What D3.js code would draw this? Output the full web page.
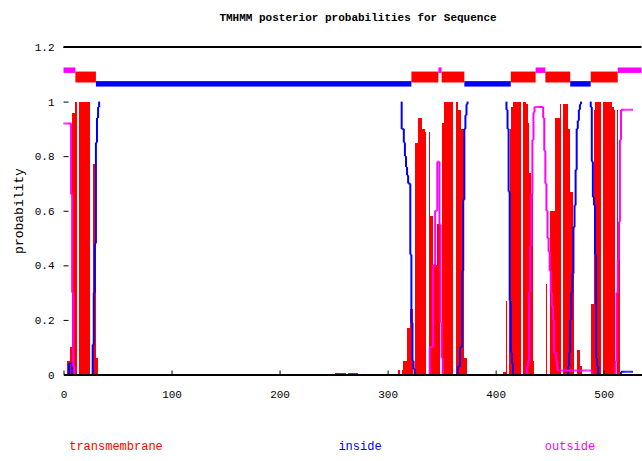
<!DOCTYPE html>
<html>
<head>
<meta charset="utf-8">
<script src="https://cdn.jsdelivr.net/npm/d3@7"></script>
<style>
body { margin: 0; background: #fff; }
text { font-family: "Liberation Mono", "DejaVu Sans Mono", monospace; fill: #000; }
</style>
</head>
<body>
<div id="chart"></div>
<script>
/* chart values */
var titleText = "TMHMM posterior probabilities for Sequence";
var yLabel = "probability";
var seqLength = 535;
var lastResidue = 527;
var xTicks = [0, 100, 200, 300, 400, 500];
var yTicks = [0, 0.2, 0.4, 0.6, 0.8, 1, 1.2];
var legendNames = ["transmembrane", "inside", "outside"];

// predicted topology: [first residue, last residue, state]
var topology = [
    [1, 11, "outside"], [12, 30, "transmembrane"], [31, 322, "inside"],
    [323, 347, "transmembrane"], [348, 350, "outside"], [351, 371, "transmembrane"],
    [372, 414, "inside"], [415, 437, "transmembrane"], [438, 446, "outside"],
    [447, 469, "transmembrane"], [470, 488, "inside"], [489, 513, "transmembrane"],
    [514, 535, "outside"]
];

// posterior probabilities as runs: [from, to, value]
var tmRuns = [
    [4, 6, 0.05], [7, 8, 0.1], [9, 11, 0.96], [12, 27, 1], [28, 30, 0.77], [31, 32, 0.06],
    [252, 273, 0.005],
    [311, 314, 0.015], [315, 318, 0.05], [319, 321, 0.17], [322, 324, 0.24], [325, 328, 0.85],
    [329, 332, 0.94], [333, 335, 0.9], [336, 339, 0.89], [340, 342, 0.58], [343, 346, 0.4],
    [347, 349, 0.55], [350, 352, 0.92], [353, 365, 1], [366, 368, 0.97], [369, 371, 0.9],
    [372, 374, 0.06],
    [408, 410, 0.01], [411, 413, 0.27], [414, 414, 0.9], [415, 416, 0.98], [417, 428, 1],
    [429, 430, 0.99], [431, 431, 0.92], [432, 433, 0.74], [434, 435, 0.66], [436, 436, 0.05],
    [448, 450, 0.33], [451, 455, 0.6], [456, 460, 0.94], [461, 467, 0.99], [468, 469, 0.9],
    [470, 472, 0.67], [473, 475, 0.54], [476, 478, 0.09], [479, 480, 0.03],
    [489, 491, 0.26], [492, 492, 0.97], [493, 508, 1], [509, 510, 0.98], [511, 513, 0.97],
    [514, 515, 0.56]
];

var insideRuns = [
    [1, 5, 0], [6, 8, 0.04], [9, 27, 0], [28, 28, 0.11], [29, 29, 0.3], [30, 30, 0.48],
    [31, 31, 0.85], [32, 32, 0.94], [33, 33, 0.98], [34, 313, 1], [314, 315, 0.9],
    [316, 316, 0.85], [317, 317, 0.8], [318, 318, 0.76], [319, 319, 0.73], [320, 321, 0.7],
    [322, 322, 0.44], [323, 323, 0.19], [324, 324, 0.05], [325, 325, 0.02], [326, 365, 0],
    [366, 367, 0.03], [368, 369, 0.1], [370, 370, 0.38], [371, 371, 0.64], [372, 372, 0.9],
    [373, 373, 0.95], [374, 374, 0.99], [375, 410, 1], [411, 411, 0.97], [412, 412, 0.9],
    [413, 413, 0.67], [414, 414, 0.27], [415, 415, 0.08], [416, 416, 0.04], [417, 467, 0],
    [468, 468, 0.03], [469, 469, 0.08], [470, 470, 0.2], [471, 471, 0.3], [472, 472, 0.37],
    [473, 473, 0.54], [474, 474, 0.62], [475, 475, 0.75], [476, 476, 0.9], [477, 477, 0.93],
    [478, 478, 0.97], [479, 479, 0.99], [480, 488, 1], [489, 489, 0.98], [490, 490, 0.78],
    [491, 491, 0.65], [492, 492, 0.62], [493, 493, 0.44], [494, 494, 0.06], [495, 495, 0.03],
    [496, 516, 0], [517, 527, 0.01]
];

var outsideRuns = [
    [1, 7, 0.92], [8, 8, 0.66], [9, 9, 0.3], [10, 10, 0.03], [11, 339, 0], [340, 342, 0.1],
    [343, 344, 0.4], [345, 346, 0.6], [347, 348, 0.78], [349, 349, 0.55], [350, 350, 0.19],
    [351, 351, 0.06], [352, 429, 0], [430, 430, 0.03], [431, 431, 0.05], [432, 432, 0.3],
    [433, 433, 0.47], [434, 434, 0.66], [435, 435, 0.86], [436, 436, 0.96], [437, 444, 0.98],
    [445, 445, 0.94], [446, 446, 0.82], [447, 447, 0.7], [448, 448, 0.6], [449, 449, 0.5],
    [450, 450, 0.45], [451, 451, 0.38], [452, 452, 0.3], [453, 453, 0.25], [454, 454, 0.2],
    [455, 456, 0.08], [457, 457, 0.05], [458, 489, 0.015], [490, 511, 0], [512, 512, 0.05],
    [513, 513, 0.3], [514, 514, 0.42], [515, 515, 0.56], [516, 516, 0.86], [517, 527, 0.97]
];

/* setup */
var width = 642;
var height = 461;
var colors = { transmembrane: "#ff0000", inside: "#0000ff", outside: "#ff00ff" };

var svg = d3.select("#chart").append("svg")
    .attr("width", width)
    .attr("height", height);

var x = d3.scaleLinear().domain([0, seqLength]).range([63.5, 641.5]);
var y = d3.scaleLinear().domain([0, 1.2]).range([374.5, 47]);

// runs -> one value per residue
function expand(runs) {
    var vals = new Array(lastResidue + 1).fill(0);
    runs.forEach(function (r) {
        for (var i = r[0]; i <= r[1]; i++) vals[i] = r[2];
    });
    return vals;
}
var tm = expand(tmRuns);
var inside = expand(insideRuns);
var outside = expand(outsideRuns);

/* transmembrane impulses - a bit narrower than a residue, so thin gaps show like the original */
var impulses = [];
tm.forEach(function (v, i) { if (i > 0 && v > 0) impulses.push({ res: i, p: v }); });

svg.append("g").attr("class", "impulses")
    .attr("shape-rendering", "crispEdges")
    .selectAll("rect")
    .data(impulses)
    .enter().append("rect")
    .attr("x", function (d) { return x(d.res - 1); })
    .attr("width", function (d) { return (x(d.res) - x(d.res - 1)) * 0.83; })
    .attr("y", function (d) { return y(d.p); })
    .attr("height", function (d) { return y(0) - y(d.p); })
    .attr("fill", colors.transmembrane);

/* inside / outside curves (only the changing parts show up in the original) */
function segments(vals) {
    var segs = [];
    for (var i = 1; i < vals.length; i++) {
        var v = vals[i];
        if (v > 0 && v < 1) segs.push([i - 1, v, i, v]);
        if (i > 1 && vals[i - 1] !== v) segs.push([i - 1, vals[i - 1], i - 1, v]);
    }
    return segs;
}

[["inside", inside], ["outside", outside]].forEach(function (s) {
    svg.append("g").attr("class", "curve " + s[0])
        .selectAll("line")
        .data(segments(s[1]))
        .enter().append("line")
        .attr("x1", function (d) { return x(d[0]); })
        .attr("x2", function (d) { return x(d[2]); })
        .attr("y1", function (d) { return y(d[1]); })
        .attr("y2", function (d) { return y(d[3]); })
        .attr("stroke", colors[s[0]])
        .attr("stroke-width", 2);
});

/* topology bar at the top */
var barLevels = {
    outside: [1.125, 1.105],
    transmembrane: [1.11, 1.07],
    inside: [1.075, 1.055]
};
var barOrder = topology.slice().sort(function (a, b) {
    return (a[2] === "transmembrane") - (b[2] === "transmembrane");
});
svg.append("g").attr("class", "topology")
    .selectAll("rect")
    .data(barOrder)
    .enter().append("rect")
    .attr("x", function (d) { return x(d[0] - 1); })
    .attr("width", function (d) { return x(d[1]) - x(d[0] - 1); })
    .attr("y", function (d) { return y(barLevels[d[2]][0]); })
    .attr("height", function (d) { return y(barLevels[d[2]][1]) - y(barLevels[d[2]][0]); })
    .attr("fill", function (d) { return colors[d[2]]; });

/* axes */
var xAxis = d3.axisBottom(x)
    .tickValues(xTicks)
    .tickSizeInner(-4)
    .tickSizeOuter(0)
    .tickPadding(16);

var gx = svg.append("g")
    .attr("transform", "translate(0," + y(0) + ")")
    .call(xAxis);
gx.select(".domain").attr("stroke-width", 2);
gx.selectAll("text").attr("font-size", 11).attr("font-family", null);

var yAxis = d3.axisLeft(y)
    .tickValues(yTicks)
    .tickSizeInner(-5)
    .tickSizeOuter(0)
    .tickPadding(9)
    .tickFormat(d3.format("~g"));

var gy = svg.append("g")
    .attr("transform", "translate(" + x(0) + ",0)")
    .call(yAxis);
gy.select(".domain").remove();
gy.selectAll("text").attr("font-size", 11).attr("font-family", null);

// top border
svg.append("line")
    .attr("x1", x(0)).attr("x2", x(seqLength))
    .attr("y1", y(1.2)).attr("y2", y(1.2))
    .attr("stroke", "#000")
    .attr("stroke-width", 2);

/* texts */
svg.append("text")
    .attr("x", 358).attr("y", 21)
    .attr("text-anchor", "middle")
    .attr("font-size", 11)
    .attr("font-weight", "bold")
    .text(titleText);

svg.append("text")
    .attr("transform", "translate(23,211) rotate(-90)")
    .attr("text-anchor", "middle")
    .attr("font-size", 13)
    .text(yLabel);

var legendX = [116, 360, 570];
svg.append("g").attr("class", "legend")
    .selectAll("text")
    .data(legendNames)
    .enter().append("text")
    .attr("x", function (d, i) { return legendX[i]; })
    .attr("y", 450)
    .attr("text-anchor", "middle")
    .attr("font-size", 12)
    .style("fill", function (d) { return colors[d]; })
    .text(function (d) { return d; });
</script>
</body>
</html>
